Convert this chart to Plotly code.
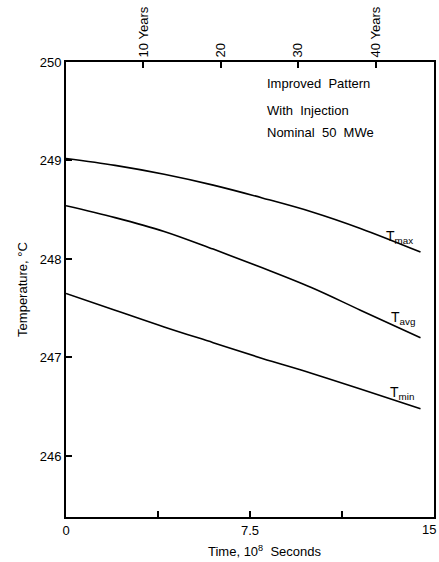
import plotly.graph_objects as go

# Data (time in 10^8 s, temperature in °C)
time = [0, 2, 4, 6, 8, 10, 12, 14.45]
t_max = [249.02, 248.95, 248.86, 248.75, 248.62, 248.48, 248.31, 248.07]
t_avg = [248.54, 248.42, 248.28, 248.10, 247.91, 247.71, 247.48, 247.20]
t_min = [247.65, 247.48, 247.31, 247.15, 246.99, 246.84, 246.68, 246.48]

x_ticks = [0, 3.75, 7.5, 11.25, 15]
x_ticktext = ["0", "", "7.5", "", ""]
last_x_label = "15"
y_ticks = [246, 247, 248, 249, 250]
year_ticks = [3.156, 6.312, 9.468, 12.624]
year_text = ["10 Years", "20", "30", "40 Years"]

FONT = "Liberation Sans"
fig = go.Figure()
for ys in (t_max, t_avg, t_min):
    fig.add_trace(go.Scatter(x=time, y=ys, mode="lines", line=dict(color="black", width=1.6, shape="spline"),
                             showlegend=False, hoverinfo="skip"))
fig.add_trace(go.Scatter(x=[0, 15], y=[None, None], xaxis="x2", yaxis="y2", mode="lines", showlegend=False))

ax_common = dict(showgrid=False, zeroline=False, linecolor="black", linewidth=2, ticks="inside",
                 tickcolor="black", tickwidth=1.5, ticklen=6, showline=True, automargin=False,
                 tickfont=dict(family=FONT, size=13, color="black"))
fig.update_layout(
    width=439, height=562, margin=dict(l=66, r=5, t=62, b=45),
    plot_bgcolor="white", paper_bgcolor="white",
    xaxis=dict(range=[0, 15], tickvals=x_ticks, ticktext=x_ticktext, **ax_common),
    xaxis2=dict(range=[0, 15], overlaying="x", side="top", tickvals=year_ticks, ticktext=year_text,
                tickangle=-90, **ax_common),
    yaxis=dict(range=[245.38, 250], tickvals=y_ticks,
               title=dict(text="Temperature, °C", font=dict(family=FONT, size=13, color="black"), standoff=9),
               **ax_common),
    yaxis2=dict(range=[245.38, 250], overlaying="y", side="right", tickvals=[], showticklabels=False,
                **ax_common),
)

# last bottom tick label, nudged inside the window like the reference
fig.add_annotation(x=14.8, y=245.38, yshift=-3, text=last_x_label, showarrow=False,
                   xanchor="center", yanchor="top", font=dict(family=FONT, size=13, color="black"))
# x-axis title (offset to the right as in the reference)
fig.add_annotation(x=0.54, xref="paper", y=245.38, yshift=-24, text="Time, 10<sup>8</sup>  Seconds",
                   showarrow=False, xanchor="center", yanchor="top", font=dict(family=FONT, size=13, color="black"))

ann_font = dict(family=FONT, size=13, color="black")
for txt, yv in [("Improved  Pattern", 249.78), ("With  Injection", 249.51), ("Nominal  50  MWe", 249.28)]:
    fig.add_annotation(x=8.1, y=yv, text=txt, showarrow=False, xanchor="left", yanchor="middle", font=ann_font)

for txt, xv, yv in [("T<sub>max</sub>", 13.6, 248.22), ("T<sub>avg</sub>", 13.75, 247.40), ("T<sub>min</sub>", 13.7, 246.64)]:
    fig.add_annotation(x=xv, y=yv, text=txt, showarrow=False, xanchor="center", yanchor="middle",
                       font=dict(family=FONT, size=14, color="black"))

# remove the page's default body margin and scrollbars so the figure fills the window exactly
fig.write_html("out.html", config={"displayModeBar": False}, post_script=(
    "document.body.style.margin='0';"
    "document.body.style.overflow='hidden';"
    "document.documentElement.style.overflow='hidden';"))
